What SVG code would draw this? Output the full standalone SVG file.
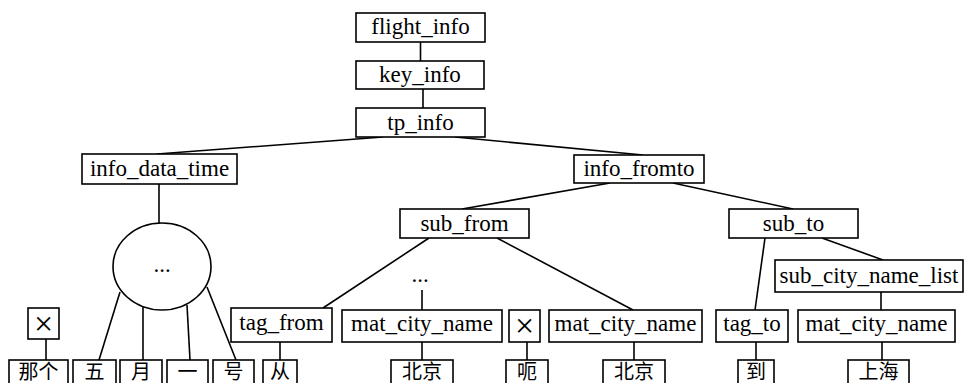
<svg xmlns="http://www.w3.org/2000/svg" width="966" height="383" viewBox="0 0 966 383">
  <style>
    .box { fill: #fff; stroke: #000; stroke-width: 1.6; }
    .edge { stroke: #000; stroke-width: 1.6; fill: none; }
    .lbl { font-family: "Liberation Serif", "Times New Roman", serif; font-size: 23px; text-anchor: middle; fill: #000; }
    .cjk { font-family: "Liberation Serif", "Noto Sans CJK SC", sans-serif; font-size: 20px; text-anchor: middle; fill: #000; }
    .x { font-family: "Liberation Serif", serif; font-size: 34px; text-anchor: middle; fill: #000; }
  </style>
  <rect width="966" height="383" fill="#fff"/>

  <!-- connectors -->
  <g id="edges" class="edge">
    <line x1="420.5" y1="42" x2="420.5" y2="61"/>
    <line x1="423" y1="89" x2="423" y2="108"/>
    <line x1="383" y1="137" x2="157" y2="154"/>
    <line x1="455" y1="137" x2="643" y2="155"/>
    <line x1="159" y1="184" x2="159" y2="223"/>
    <line x1="120" y1="292" x2="99" y2="360"/>
    <line x1="143" y1="307" x2="143" y2="360"/>
    <line x1="187" y1="305" x2="190" y2="360"/>
    <line x1="207" y1="287" x2="236" y2="360"/>
    <line x1="46" y1="339" x2="46" y2="360"/>
    <line x1="610" y1="183" x2="462" y2="209"/>
    <line x1="673" y1="183" x2="793" y2="209"/>
    <line x1="429" y1="238" x2="323" y2="308"/>
    <line x1="497" y1="238" x2="633" y2="310"/>
    <line x1="422" y1="290" x2="422" y2="310"/>
    <line x1="280" y1="342" x2="280" y2="360"/>
    <line x1="422" y1="342" x2="422" y2="360"/>
    <line x1="527" y1="342" x2="527" y2="360"/>
    <line x1="634" y1="342" x2="634" y2="360"/>
    <line x1="765" y1="238" x2="755" y2="310"/>
    <line x1="822" y1="238" x2="883" y2="260"/>
    <line x1="881" y1="292" x2="881" y2="310"/>
    <line x1="882" y1="342" x2="882" y2="360"/>
    <line x1="756" y1="342" x2="756" y2="360"/>
  </g>

  <!-- tree nodes -->
  <g id="flight_info"><rect class="box" x="356" y="13" width="129" height="29"/><text class="lbl" x="420.5" y="34">flight_info</text></g>
  <g id="key_info"><rect class="box" x="356" y="61" width="128" height="28"/><text class="lbl" x="420" y="82">key_info</text></g>
  <g id="tp_info"><rect class="box" x="356" y="108" width="129" height="29"/><text class="lbl" x="420.5" y="130">tp_info</text></g>
  <g id="info_data_time"><rect class="box" x="82" y="154" width="155" height="30"/><text class="lbl" x="159.5" y="176">info_data_time</text></g>
  <g id="info_fromto"><rect class="box" x="574" y="155" width="130" height="28"/><text class="lbl" x="639" y="176">info_fromto</text></g>
  <g id="sub_from"><rect class="box" x="400" y="209" width="129" height="29"/><text class="lbl" x="464.5" y="231">sub_from</text></g>
  <g id="sub_to"><rect class="box" x="729" y="209" width="129" height="29"/><text class="lbl" x="793.5" y="231">sub_to</text></g>
  <g id="sub_city_name_list"><rect class="box" x="775" y="260" width="188" height="32"/><text class="lbl" x="869" y="283">sub_city_name_list</text></g>
  <g id="ellipsis_node"><ellipse class="box" cx="162" cy="266.5" rx="49" ry="43.5"/><text class="lbl" x="162" y="272">...</text></g>
  <g id="ellipsis_from"><text class="lbl" x="420" y="282">...</text></g>
  <g id="skip1"><rect class="box" x="28" y="308" width="31" height="31"/><text class="x" x="43.5" y="335">×</text></g>
  <g id="tag_from"><rect class="box" x="231" y="308" width="101" height="34"/><text class="lbl" x="281.5" y="330">tag_from</text></g>
  <g id="mat_city_name_1"><rect class="box" x="342" y="310" width="160" height="32"/><text class="lbl" x="422" y="331">mat_city_name</text></g>
  <g id="skip2"><rect class="box" x="509" y="310" width="31" height="32"/><text class="x" x="524.5" y="337">×</text></g>
  <g id="mat_city_name_2"><rect class="box" x="549" y="310" width="153" height="32"/><text class="lbl" x="625.5" y="331">mat_city_name</text></g>
  <g id="tag_to"><rect class="box" x="716" y="310" width="72" height="32"/><text class="lbl" x="752" y="331">tag_to</text></g>
  <g id="mat_city_name_3"><rect class="box" x="798" y="310" width="157" height="32"/><text class="lbl" x="876.5" y="331">mat_city_name</text></g>

  <!-- word tokens -->
  <g id="w_nage"><rect class="box" x="9" y="360" width="59" height="26"/><text class="cjk" x="38.5" y="379">那个</text></g>
  <g id="w_wu"><rect class="box" x="73" y="360" width="43" height="26"/><text class="cjk" x="94.5" y="379">五</text></g>
  <g id="w_yue"><rect class="box" x="120" y="360" width="42" height="26"/><text class="cjk" x="141" y="379">月</text></g>
  <g id="w_yi"><rect class="box" x="167" y="360" width="41" height="26"/><text class="cjk" x="187.5" y="379">一</text></g>
  <g id="w_hao"><rect class="box" x="213" y="360" width="41" height="26"/><text class="cjk" x="233.5" y="379">号</text></g>
  <g id="w_cong"><rect class="box" x="263" y="360" width="34" height="26"/><text class="cjk" x="280" y="379">从</text></g>
  <g id="w_beijing1"><rect class="box" x="391" y="360" width="62" height="26"/><text class="cjk" x="422" y="379">北京</text></g>
  <g id="w_e"><rect class="box" x="506" y="360" width="42" height="26"/><text class="cjk" x="527" y="379">呃</text></g>
  <g id="w_beijing2"><rect class="box" x="603" y="360" width="62" height="26"/><text class="cjk" x="634" y="379">北京</text></g>
  <g id="w_dao"><rect class="box" x="738" y="360" width="36" height="26"/><text class="cjk" x="756" y="379">到</text></g>
  <g id="w_shanghai"><rect class="box" x="848" y="360" width="61" height="26"/><text class="cjk" x="878.5" y="379">上海</text></g>
</svg>
